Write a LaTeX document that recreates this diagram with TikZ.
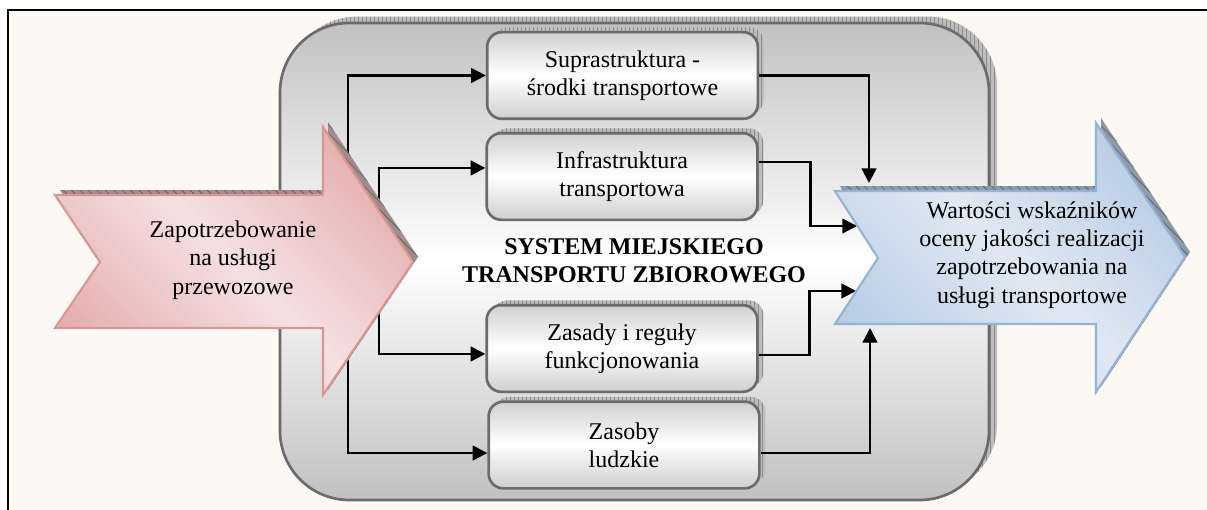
\documentclass[tikz,border=0pt]{standalone}
\usepackage{fontspec}
\setmainfont{Liberation Serif}
\newfontfamily\diagserif{Liberation Serif}
\usetikzlibrary{shadows,arrows.meta,calc}

\definecolor{paper}{HTML}{FCF8F4}
\definecolor{rimgray}{HTML}{6B6B6B}
\definecolor{sysgray}{HTML}{C1C1C1}
\definecolor{boxgray}{HTML}{D0D0D0}
\definecolor{shadefill}{HTML}{BDBDBD}
\definecolor{shadeline}{HTML}{8C8C8C}
\definecolor{pinkdark}{HTML}{E2A6A6}
\definecolor{pinklight}{HTML}{F5E1E1}
\definecolor{pinkrim}{HTML}{D99694}
\definecolor{pinkshade}{HTML}{A08C8C}
\definecolor{bluedark}{HTML}{B1C7E1}
\definecolor{bluelight}{HTML}{E0E9F4}
\definecolor{bluerim}{HTML}{95B3D7}
\definecolor{blueshade}{HTML}{8E99A6}

% vertical gradient: edge colour at top and bottom, centre colour in the middle
\tikzset{
  vgrad/.style 2 args={path picture={
    \foreach \i in {0,...,59}{
      \pgfmathsetmacro\gm{abs(2*(\i+0.5)/60-1)*100}
      \fill[sharp corners, #1!\gm!#2]
        ($(path picture bounding box.north west)!{\i/60}!(path picture bounding box.south west)+(-3,0)$)
        rectangle
        ($(path picture bounding box.north east)!{(\i+1.7)/60}!(path picture bounding box.south east)+(3,0)$);
    }}},
  % fine grid texture of the shadows
  gridtex/.style={path picture={
    \draw[sharp corners, shadeline, line width=0.3pt, step=4]
      ([shift={(-4,4)}]path picture bounding box.south west) grid
      ([shift={(4,-4)}]path picture bounding box.north east);}},
}
% diagonal band gradient (light band from upper left to lower right)
\newcommand\diagfill[5]{%
  \begin{scope}[shift={(#1,#2)}, rotate=45]
    \foreach \i in {-32,...,31}{
      \pgfmathsetmacro\gm{min(100,abs((\i+0.5)*8)/#5*100)}
      \fill[#3!\gm!#4] (\i*8,-320) rectangle (\i*8+9.5,320);
    }
  \end{scope}}
% cross-hatch texture inside the current clip
\newcommand\hatchfill[3]{%
  \begin{scope}[shift={(#1,#2)}, rotate=45]
    \draw[#3, line width=0.35pt, step=6] (-260,-260) grid (260,260);
  \end{scope}}

\tikzset{
  txt/.style={font=\diagserif\fontsize{18}{21.2}\selectfont, align=center, inner sep=0pt},
  gridshadow/.style={
    general shadow={fill=shadefill, gridtex, shadow xshift=#1, shadow yshift=#1*0.8}},
  sysbox/.style={rounded corners=52pt, draw=rimgray, line width=2pt,
    vgrad={sysgray}{white},
    minimum width=531.75pt, minimum height=357.75pt, gridshadow=6pt},
  partbox/.style={txt, rounded corners=11pt, draw=rimgray, line width=2pt,
    vgrad={boxgray}{white},
    minimum width=203pt, minimum height=65pt, gridshadow=4.5pt},
  conn/.style={line width=1.8pt, -{Triangle[length=11pt,width=11pt]}},
}

\def\inpath{(55,195) -- (323,195) -- (323,127) -- (413,262) -- (323,395)
  -- (323,328) -- (55,328) -- (100,262) -- cycle}
\def\outpath{(835,191) -- (1096,191) -- (1096,123) -- (1185,257) -- (1096,392)
  -- (1096,324) -- (835,324) -- (878,258) -- cycle}

\begin{document}
\begin{tikzpicture}[x=0.75pt, y=-0.75pt]
\useasboundingbox (0,0) rectangle (1207,510);
\fill[white] (0,0) rectangle (1207,510);
% page frame
\fill[paper] (8,10) rectangle (1207,510);
\draw[line width=1.6pt] (8,510) -- (8,10) -- (1207,10);

% the system container
\node[sysbox] (sys) at (634.5,261.5) {};

% fork points of the input, hidden behind the input arrow
\coordinate (forkA) at (348,262);
\coordinate (forkB) at (379,262);
% entry points of the output arrow
\coordinate (inT) at (869,183);
\coordinate (inU) at (857,226);
\coordinate (inL) at (856,291);
\coordinate (inB) at (870,328);

% components of the system
\node[partbox] (sup) at (622.5,75.5) {Suprastruktura -\\środki transportowe};
\node[partbox] (inf) at (622,176.5) {Infrastruktura\\transportowa};
\node[partbox] (zas) at (622,348.5) {Zasady i reguły\\funkcjonowania};
\node[partbox] (lud) at (624,445) {Zasoby\\ludzkie};

\node[txt, font=\diagserif\fontsize{18}{21.2}\selectfont\bfseries] (title) at (634,261)
  {SYSTEM MIEJSKIEGO\\TRANSPORTU ZBIOROWEGO};

% connectors: input to components
\draw[conn] (forkA) |- (sup.west);
\draw[conn] (forkB) |- ([yshift=6.4pt]inf.west);
\draw[conn] (forkB) |- ([yshift=-4.1pt]zas.west);
\draw[conn] (forkA) |- ([yshift=-6pt]lud.west);

% connectors: components to output
\draw[conn] (sup.east) -| (inT);
\draw[conn] ([yshift=10.9pt]inf.east) -- ++(52,0) |- (inU);
\draw[conn] ([yshift=-4.9pt]zas.east) -- ++(51,0) |- (inL);
\draw[conn] ([yshift=-6pt]lud.east) -| (inB);

% input arrow
\begin{scope}[shift={(5,-5)}]
  \fill[pinkshade] \inpath;
  \clip \inpath;
  \hatchfill{234}{261}{pinkshade!55!black}
\end{scope}
\begin{scope}
  \clip \inpath;
  \diagfill{234}{261}{pinkdark}{pinklight}{190}
\end{scope}
\draw[pinkrim, line width=1.6pt, line join=miter] \inpath;
\node[txt] (need) at (233,260) {Zapotrzebowanie\\na usługi\\przewozowe};

% output arrow
\begin{scope}[shift={(5,-5)}]
  \fill[blueshade] \outpath;
  \clip \outpath;
  \hatchfill{1010}{257}{blueshade!55!black}
\end{scope}
\begin{scope}
  \clip \outpath;
  \diagfill{1010}{257}{bluedark}{bluelight}{190}
\end{scope}
\draw[bluerim, line width=1.6pt, line join=miter] \outpath;
\node[txt] (value) at (1032,255) {Wartości wskaźników\\oceny jakości realizacji\\zapotrzebowania na\\usługi transportowe};
\end{tikzpicture}
\end{document}
